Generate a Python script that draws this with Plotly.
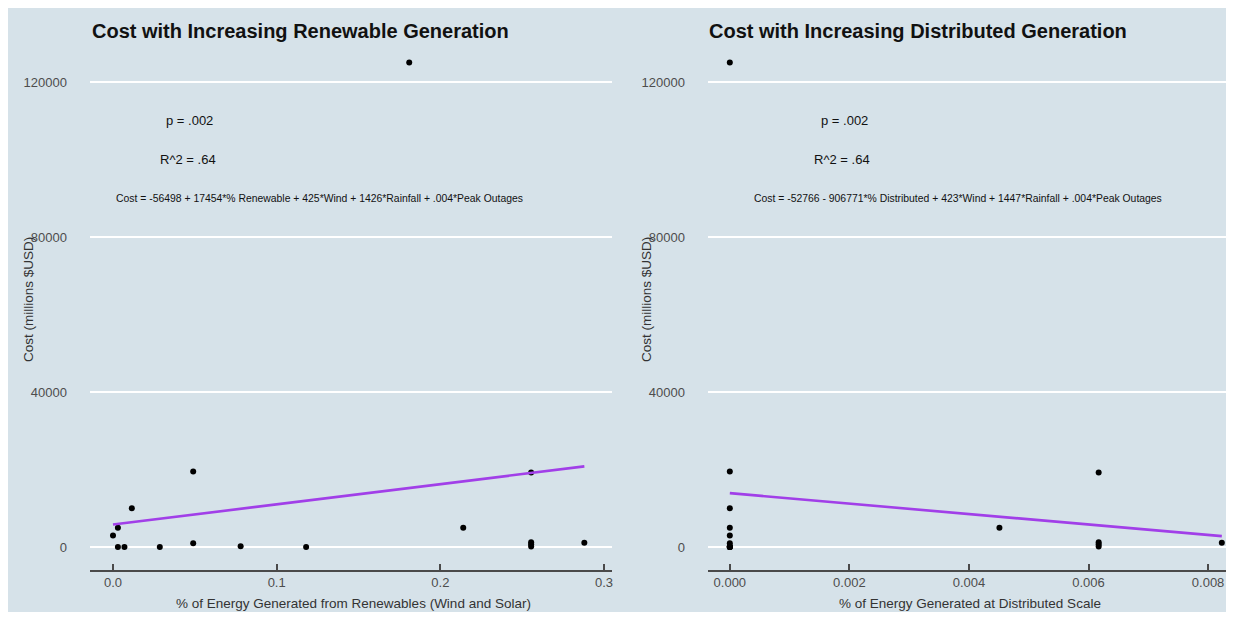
import plotly.graph_objects as go

# ---------------- data ----------------
cost = [3000, 5000, 0, 0, 10000, 0, 19500, 1000, 200, 0, 5000, 19200, 1200, 700, 100, 1100, 125000]
pct_renewable = [0.0, 0.003, 0.003, 0.007, 0.0115, 0.0286, 0.049, 0.049, 0.078, 0.118, 0.214,
                 0.2555, 0.2555, 0.2555, 0.2555, 0.288, 0.181]
pct_distributed = [0, 0, 0, 0, 0, 0, 0, 0, 0, 0, 0.00451, 0.00617, 0.00617, 0.00617, 0.00617, 0.00823, 0]

fit_x_renew = [0.0, 0.288]
fit_y_renew = [5800, 20800]
fit_x_dist = [0.0, 0.00823]
fit_y_dist = [13900, 2800]

y_ticks = [0, 40000, 80000, 120000]
x_ticks_renew = [0.0, 0.1, 0.2, 0.3]
x_ticktext_renew = ["0.0", "0.1", "0.2", "0.3"]
x_ticks_dist = [0.0, 0.002, 0.004, 0.006, 0.008]
x_ticktext_dist = ["0.000", "0.002", "0.004", "0.006", "0.008"]

titles = ["Cost with Increasing Renewable Generation", "Cost with Increasing Distributed Generation"]
x_titles = ["% of Energy Generated from Renewables (Wind and Solar)", "% of Energy Generated at Distributed Scale"]
y_title = "Cost (millions $USD)"
eq_renew = "Cost = -56498 + 17454*% Renewable + 425*Wind + 1426*Rainfall + .004*Peak Outages"
eq_dist = "Cost = -52766 - 906771*% Distributed + 423*Wind + 1447*Rainfall + .004*Peak Outages"

# ---------------- layout constants ----------------
OFF = 8  # page body margin offset
W, H = 1234 - 2 * OFF, 620 - 2 * OFF
BG = "#d6e2e9"
FONT = "Liberation Sans, Arial, sans-serif"
PURPLE = "#a13fe8"

def px_x(p):
    return (p - OFF) / W

def px_y(p):
    return 1 - (p - OFF) / H

fig = go.Figure()

fig.add_trace(go.Scatter(x=pct_renewable, y=cost, mode="markers", cliponaxis=False,
                         marker=dict(color="black", size=6), xaxis="x", yaxis="y", showlegend=False))
fig.add_trace(go.Scatter(x=fit_x_renew, y=fit_y_renew, mode="lines",
                         line=dict(color=PURPLE, width=2.6), xaxis="x", yaxis="y", showlegend=False))
fig.add_trace(go.Scatter(x=pct_distributed, y=cost, mode="markers", cliponaxis=False,
                         marker=dict(color="black", size=6), xaxis="x2", yaxis="y2", showlegend=False))
fig.add_trace(go.Scatter(x=fit_x_dist, y=fit_y_dist, mode="lines",
                         line=dict(color=PURPLE, width=2.6), xaxis="x2", yaxis="y2", showlegend=False))

common_x = dict(showgrid=False, zeroline=False, showline=True, linecolor="#4a4a4a", linewidth=1.5,
                ticks="inside", ticklen=6, tickwidth=1.5, tickcolor="#4a4a4a",
                tickfont=dict(size=13, color="#4d4d4d", family=FONT), automargin=False)
common_y = dict(showgrid=True, gridcolor="white", gridwidth=2, zeroline=False, showline=False,
                ticks="", tickvals=y_ticks, ticktext=[str(v) for v in y_ticks],
                tickfont=dict(size=13, color="#4d4d4d", family=FONT), automargin=False,
                range=[-5935, 128258], ticklabelstandoff=22)

ydom = [px_y(570), px_y(50)]

fig.update_layout(
    width=W, height=H,
    margin=dict(l=0, r=0, t=0, b=0),
    paper_bgcolor=BG, plot_bgcolor=BG,
    font=dict(family=FONT),
    xaxis=dict(domain=[px_x(90), px_x(612)], range=[-0.01405, 0.3049], anchor="y",
               tickvals=x_ticks_renew, ticktext=x_ticktext_renew, **common_x),
    yaxis=dict(domain=ydom, anchor="x", **common_y),
    xaxis2=dict(domain=[px_x(708), 1.0], range=[-0.000365, 0.0083], anchor="y2",
                tickvals=x_ticks_dist, ticktext=x_ticktext_dist, **common_x),
    yaxis2=dict(domain=ydom, anchor="x2", **common_y),
    showlegend=False,
)

anns = []
# panel titles
for xp, t in [(90, titles[0]), (707, titles[1])]:
    anns.append(dict(text="<b>%s</b>" % t, xref="paper", yref="paper", x=px_x(xp), y=px_y(31),
                     xanchor="left", yanchor="middle", showarrow=False,
                     font=dict(size=20, color="#111111", family=FONT)))
# x axis titles
for xc, t in [(353, x_titles[0]), (970, x_titles[1])]:
    anns.append(dict(text=t, xref="paper", yref="paper", x=px_x(xc), y=px_y(603),
                     xanchor="center", yanchor="middle", showarrow=False,
                     font=dict(size=13.5, color="#333333", family=FONT)))
# y axis titles
for xc in [28, 646]:
    anns.append(dict(text=y_title, xref="paper", yref="paper", x=px_x(xc), y=px_y(300),
                     xanchor="center", yanchor="middle", showarrow=False, textangle=-90,
                     font=dict(size=13.5, color="#333333", family=FONT)))
# stats annotations (data coordinates)
for xr, yr, x_p, x_r, x_e, eq in [("x", "y", 0.047, 0.046, 0.126, eq_renew),
                                   ("x2", "y2", 0.00191, 0.00187, 0.00382, eq_dist)]:
    anns.append(dict(text="p = .002", xref=xr, yref=yr, x=x_p, y=110000, showarrow=False,
                     font=dict(size=13, color="#111111", family=FONT)))
    anns.append(dict(text="R^2 = .64", xref=xr, yref=yr, x=x_r, y=100000, showarrow=False,
                     font=dict(size=13, color="#111111", family=FONT)))
    anns.append(dict(text=eq, xref=xr, yref=yr, x=x_e, y=90000, showarrow=False,
                     font=dict(size=10.4, color="#111111", family=FONT)))
fig.update_layout(annotations=anns)

fig.write_html("out.html")
